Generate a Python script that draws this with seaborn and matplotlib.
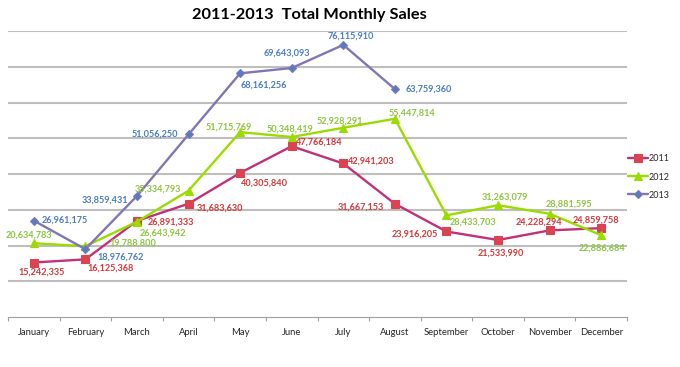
import pandas as pd
import matplotlib.pyplot as plt
import seaborn as sns

sns.set_theme(style="white")
plt.rcParams['font.family'] = ['Lato', 'DejaVu Sans']

months = ["January", "February", "March", "April", "May", "June",
          "July", "August", "September", "October", "November", "December"]

sales_2011 = [15242335, 16125368, 26891333, 31683630, 40305840, 47766184,
              42941203, 31667153, 23916205, 21533990, 24228294, 24859758]
sales_2012 = [20634783, 19788800, 26643942, 35334793, 51715769, 50348419,
              52928291, 55447814, 28433703, 31263079, 28881595, 22886684]
sales_2013 = [26961175, 18976762, 33859431, 51056250, 68161256, 69643093,
              76115910, 63759360]

# label offsets (pixels) relative to each point
off_2011 = [(8, -10), (25, -9), (34, -1), (31, -4), (24, -10), (28, 4),
            (28, 2), (-34, -3), (-32, -3), (3, -13), (-11, 8), (-5, 8)]
off_2012 = [(-5, 8), (48, 3), (26, -11), (-31, 2), (-11, 5), (-2, 8),
            (-3, 7), (17, 6), (27, -7), (7, 8), (19, 10), (1, -13)]
off_2013 = [(31, 0), (35, -8), (-32, -4), (-34, 0), (24, -12), (-5, 15),
            (7, 9), (34, 0)]

fig = plt.figure(figsize=(6.8, 3.67), dpi=100)
ax = fig.add_axes([8 / 680, 1 - 317 / 367, 619 / 680, 286 / 367])

series = [
    ("2011", sales_2011, off_2011, "#C2307A", "#D94452", "s", 5.2, "#D8383A"),
    ("2012", sales_2012, off_2012, "#9ADC00", "#9ADC00", "^", 5.5, "#8CC63F"),
    ("2013", sales_2013, off_2013, "#8275B5", "#4F7EC2", "D", 3.8, "#4A7CC2"),
]

for name, vals, offs, lc, mc, mk, ms, tc in series:
    df = pd.DataFrame({"Month": months[:len(vals)], "Sales": vals})
    sns.lineplot(data=df, x="Month", y="Sales", sort=False, ax=ax, color=lc,
                 linewidth=1.7, marker=mk, markersize=ms, markerfacecolor=mc,
                 markeredgecolor=mc if mk != "D" else lc, markeredgewidth=0.8,
                 label=name)
    for i, (v, (dx, dy)) in enumerate(zip(vals, offs)):
        ax.annotate(f"{v:,}", (i, v), xytext=(dx, dy), textcoords="offset pixels",
                    ha="center", va="center", fontsize=6.6, fontweight="bold",
                    color=tc)

ax.set_ylim(0, 80000000)
ax.set_xlim(-0.5, 11.5)
ax.set_yticks(range(10000000, 80000001, 10000000))
ax.set_yticklabels([])
ax.grid(axis="y", color="#BEBEBE", linewidth=1.5)
ax.set_axisbelow(True)
ax.tick_params(axis="y", length=0)
ax.set_xticks(range(12))
ax.set_xticklabels(months, fontsize=6.8)
ax.set_xticks([i - 0.5 for i in range(13)], minor=True)
ax.tick_params(axis="x", which="major", length=0, pad=8)
ax.tick_params(axis="x", which="minor", length=3, color="#A0A0A0", width=0.8,
               bottom=True)
for s in ["top", "right", "left"]:
    ax.spines[s].set_visible(False)
ax.spines["bottom"].set_color("#A0A0A0")
ax.spines["bottom"].set_linewidth(0.8)
ax.set_xlabel("")
ax.set_ylabel("")

fig.text(309 / 680, 1 - 15 / 367, "2011-2013  Total Monthly Sales",
         ha="center", va="center", fontsize=11.8, fontweight="bold", color="black")

leg = ax.legend(loc="center left", bbox_to_anchor=(628 / 680, 1 - 177 / 367),
                bbox_transform=fig.transFigure, frameon=False, fontsize=6.5,
                handlelength=2.2, handletextpad=0.1, labelspacing=1.0,
                borderaxespad=0, borderpad=0)

fig.savefig("out.png", dpi=100)
